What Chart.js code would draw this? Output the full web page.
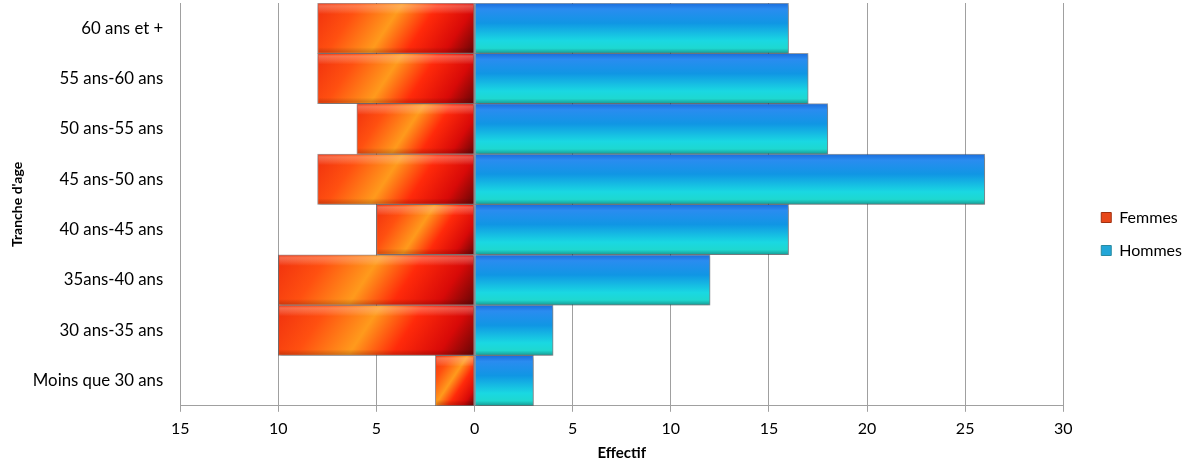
<!DOCTYPE html>
<html>
<head>
<meta charset="utf-8">
<script src="https://cdn.jsdelivr.net/npm/chart.js@4.4.1/dist/chart.umd.min.js"></script>
<style>
  html, body { margin: 0; padding: 0; background: #fff; }
  #wrap { width: 1193px; height: 463px; }
</style>
</head>
<body>
<div id="wrap"><canvas id="pyramid"></canvas></div>
<script>
// age groups, top to bottom
const ageGroups = ['60 ans et +', '55 ans-60 ans', '50 ans-55 ans', '45 ans-50 ans',
  '40 ans-45 ans', '35ans-40 ans', '30 ans-35 ans', 'Moins que 30 ans'];
const femmes = [8, 8, 6, 8, 5, 10, 10, 2];
const hommes = [16, 17, 18, 26, 16, 12, 4, 3];
const xTicks = [-15, -10, -5, 0, 5, 10, 15, 20, 25, 30];

const FONT = 'Lato, "Open Sans", sans-serif';
const LEGEND_GAP = 21;
const LEGEND_DY = 3;

// bar box from the scales
function barBox(c) {
  const chart = c.chart;
  const x = chart.scales.x, y = chart.scales.y;
  const x0 = x.getPixelForValue(0), x1 = x.getPixelForValue(c.raw);
  const yc = y.getPixelForValue(c.dataIndex);
  const h = Math.abs(y.getPixelForValue(1) - y.getPixelForValue(0));
  return { left: Math.min(x0, x1), right: Math.max(x0, x1), top: yc - h / 2, bottom: yc + h / 2 };
}

function femmesFill(c) {
  if (!c.chart.chartArea || c.dataIndex === undefined || c.raw === undefined) return '#ec4410';
  const b = barBox(c);
  const w = b.right - b.left, h = b.bottom - b.top;
  const nx = 50 / 60, ny = 33 / 60;
  const L = w * nx + h * ny;
  const g = c.chart.ctx.createLinearGradient(b.left, b.top, b.left + L * nx, b.top + L * ny);
  g.addColorStop(0, '#f0300e');
  g.addColorStop(0.22, '#ff5010');
  g.addColorStop(0.45, '#ff9a1c');
  g.addColorStop(0.64, '#ff2a0a');
  g.addColorStop(0.84, '#d80a08');
  g.addColorStop(1, '#640606');
  return g;
}

function hommesFill(c) {
  if (!c.chart.chartArea || c.dataIndex === undefined || c.raw === undefined) return '#2a9ed8';
  const b = barBox(c);
  const g = c.chart.ctx.createLinearGradient(0, b.top, 0, b.bottom);
  g.addColorStop(0, '#1a6cdc');
  g.addColorStop(0.12, '#2a8cf0');
  g.addColorStop(0.4, '#1096e4');
  g.addColorStop(0.75, '#1ad8e2');
  g.addColorStop(0.9, '#1ed8d0');
  g.addColorStop(1, '#169a94');
  return g;
}

// push the legend items a bit away from the plot
const legendGap = {
  id: 'legendGap',
  beforeInit(chart) {
    const lg = chart.legend;
    const fit = lg.fit.bind(lg);
    lg.fit = function () { fit(); this.width += LEGEND_GAP; };
    const draw = lg.draw.bind(lg);
    lg.draw = function () {
      this.left += LEGEND_GAP; this.top += LEGEND_DY;
      draw();
      this.left -= LEGEND_GAP; this.top -= LEGEND_DY;
    };
  }
};

// soft drop shadow + glossy top band on the bars
const barGloss = {
  id: 'barGloss',
  beforeDatasetsDraw(chart) {
    const ctx = chart.ctx;
    ctx.save();
    ctx.shadowColor = 'rgba(0,0,0,0.3)';
    ctx.shadowOffsetX = 1;
    ctx.shadowOffsetY = 2;
    ctx.shadowBlur = 3;
  },
  afterDatasetsDraw(chart) {
    const ctx = chart.ctx;
    ctx.restore();
    ctx.save();
    chart.getDatasetMeta(0).data.forEach(bar => {
      const left = Math.min(bar.x, bar.base), right = Math.max(bar.x, bar.base);
      const top = bar.y - bar.height / 2, h = bar.height;
      const g = ctx.createLinearGradient(0, top, 0, top + h);
      g.addColorStop(0, 'rgba(255,255,255,0)');
      g.addColorStop(0.06, 'rgba(255,210,190,0.35)');
      g.addColorStop(0.22, 'rgba(255,255,255,0)');
      g.addColorStop(0.88, 'rgba(0,0,0,0)');
      g.addColorStop(1, 'rgba(60,0,0,0.25)');
      ctx.fillStyle = g;
      ctx.fillRect(left + 1, top + 1, right - left - 2, h - 2);
    });
    ctx.restore();
  }
};

new Chart(document.getElementById('pyramid'), {
  type: 'bar',
  data: {
    labels: ageGroups,
    datasets: [
      {
        label: 'Femmes',
        data: femmes.map(v => -v),
        backgroundColor: femmesFill,
        borderColor: 'rgba(90,70,70,0.55)',
        borderWidth: 1,
        borderSkipped: false,
        barPercentage: 1,
        categoryPercentage: 1
      },
      {
        label: 'Hommes',
        data: hommes,
        backgroundColor: hommesFill,
        borderColor: 'rgba(70,80,90,0.55)',
        borderWidth: 1,
        borderSkipped: false,
        barPercentage: 1,
        categoryPercentage: 1
      }
    ]
  },
  plugins: [legendGap, barGloss],
  options: {
    indexAxis: 'y',
    responsive: true,
    maintainAspectRatio: false,
    animation: false,
    layout: { padding: { top: 3, right: 1, left: 9, bottom: 1 } },
    plugins: {
      tooltip: { enabled: false },
      legend: {
        position: 'right',
        align: 'center',
        labels: {
          font: { family: FONT, size: 16 },
          color: '#000',
          boxWidth: 10,
          boxHeight: 10,
          padding: 17,
          generateLabels: chart => chart.data.datasets.map((ds, i) => ({
            text: ds.label,
            fillStyle: i === 0 ? '#e8481a' : '#22a6d8',
            strokeStyle: i === 0 ? '#a03010' : '#2a8aa0',
            lineWidth: 1,
            hidden: false,
            datasetIndex: i
          }))
        }
      }
    },
    scales: {
      x: {
        stacked: true,
        min: -15,
        max: 30,
        afterBuildTicks: axis => { axis.ticks = xTicks.map(v => ({ value: v })); },
        ticks: {
          callback: v => Math.abs(v),
          font: { family: FONT, size: 16 },
          color: '#000',
          padding: 7,
          maxRotation: 0
        },
        grid: { color: '#a0a0a0', tickLength: 6, lineWidth: 1 },
        border: { color: '#a0a0a0' },
        title: {
          display: true,
          text: 'Effectif',
          font: { family: FONT, size: 15, weight: 'bold' },
          color: '#000',
          padding: { top: -1, bottom: 0 }
        }
      },
      y: {
        stacked: true,
        afterFit: axis => { axis.paddingTop = 0; axis.paddingBottom = 0; axis.width -= 14; },
        ticks: {
          font: { family: FONT, size: 16.8 },
          color: '#000',
          padding: 17
        },
        grid: { display: false, drawTicks: false },
        border: { display: true, color: '#a0a0a0' },
        title: {
          display: true,
          text: "Tranche d'age",
          font: { family: FONT, size: 14, weight: 'bold' },
          color: '#000',
          padding: { top: 0, bottom: 4 }
        }
      }
    }
  }
});
</script>
</body>
</html>
